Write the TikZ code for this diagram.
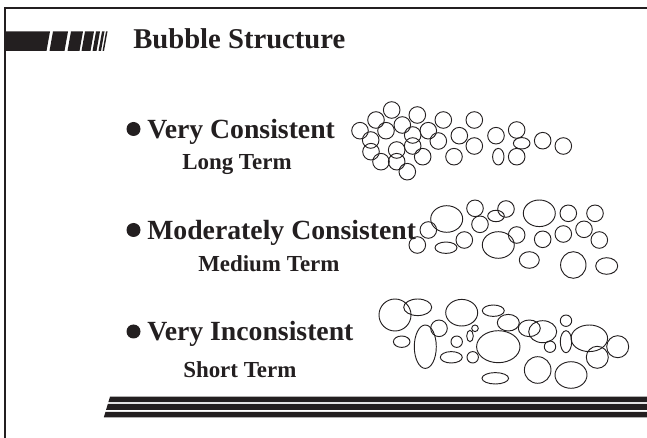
\documentclass[tikz,border=0pt]{standalone}
\usepackage{fontspec}
\setmainfont{Liberation Serif}
\usetikzlibrary{positioning}
\definecolor{ink}{RGB}{35,31,32}
\tikzset{
  heading/.style={font=\fontsize{21.5}{21.5}\selectfont\bfseries, anchor=base west, inner sep=0pt, text=ink},
  item/.style={font=\fontsize{20.8}{20.8}\selectfont\bfseries, anchor=base west, inner sep=0pt, text=ink},
  term/.style={font=\fontsize{17.2}{17.2}\selectfont\bfseries, anchor=base west, inner sep=0pt, text=ink},
  dot/.style={circle, fill=ink, inner sep=0pt, minimum size=10.5pt},
  bubble/.style={draw=ink, line width=0.7pt}
}

\begin{document}
\begin{tikzpicture}[x=0.75pt, y=-0.75pt]
\useasboundingbox (0,0) rectangle (647,438);

% frame and title bar
\draw[ink, line width=1.5pt] (5,438) -- (5,8) -- (647,8);
\fill[ink] (5,31.5) -- (50,31.5) -- (46.5,51) -- (5,51) -- cycle;
\foreach \a/\b in {53/68, 71/83, 85/94, 96/100, 102/104.5, 106/107.5}
  \fill[ink] (\a,31.5) -- (\b,31.5) -- (\b-3.5,51) -- (\a-3.5,51) -- cycle;
\node[heading] (title) at (133,49) {Bubble Structure};

% bullets
\node[dot] (d1) at (133.5,129) {};
\node[item] (vc) at (147,138.5) {Very Consistent};
\node[term] (lt) at (182,170) {Long Term};
\node[dot] (d2) at (133.5,230) {};
\node[item] (mc) at (147,239.5) {Moderately Consistent};
\node[term] (mt) at (198,272) {Medium Term};
\node[dot] (d3) at (133.5,331.5) {};
\node[item] (vi) at (147,341) {Very Inconsistent};
\node[term] (st) at (183,378) {Short Term};

% bubbles, long term
\foreach \x/\y/\rx/\ry in {391.7/110/8.3/8.3, 376/120/8.3/8.3, 417.3/115/8.3/8.3,
  443.3/120/8.3/8.3, 474.3/120/8.3/8.3, 360/130.7/8.3/8.3, 386/130.7/8.3/8.3,
  402.3/125/8.3/8.3, 412.7/135/8.3/8.3, 428.3/130.7/8.3/8.3, 370.7/140/8.3/8.3,
  371/151.7/8.3/8.3, 396.7/150/8.3/8.3, 412.7/146/8.3/8.3, 438.3/141/8.3/8.3,
  459.3/135.7/8.3/8.3, 474.3/146/8.3/8.3, 496/135.7/8.3/8.3, 516.7/130/8.3/8.3,
  521.7/143.3/8.3/5.7, 542.7/140.7/8.3/8.3, 563.3/146/8.3/8.3, 381/161.7/8.3/8.3,
  396.7/161.7/8.3/8.3, 422.7/156.7/8.3/8.3, 454/156.7/8.3/8.3, 498.3/156.7/5.7/8.3,
  516.7/156.7/8.3/8.3, 407.3/171.7/8.3/8.3}
  \draw[bubble] (\x,\y) ellipse [x radius=\rx*0.75pt, y radius=\ry*0.75pt];

% bubbles, medium term
\foreach \x/\y/\rx/\ry in {446.7/219/16/13.3, 428.3/230/8.3/8.3, 417.3/245/8.3/8.3,
  446/247.7/11/5.7, 464.3/240/8.3/8.3, 475/208.3/8.3/8.3, 480/224.3/8.3/8.3,
  496/216/8.3/5.7, 506/209/8.3/8.3, 498.3/245/16/13.3, 516.7/235/8.3/8.3,
  539.3/213.3/16/13.3, 529.3/260/10/8.3, 542.7/239.3/8.3/8.3, 563.3/234/8.3/8.3,
  568.3/213.3/8.3/8.3, 595/213.3/8.3/8.3, 584/229.3/8.3/8.3, 599.3/240/8.3/8.3,
  573.3/265/12.7/13.3, 606.7/266/11/8.3}
  \draw[bubble] (\x,\y) ellipse [x radius=\rx*0.75pt, y radius=\ry*0.75pt];

% bubbles, short term
\foreach \x/\y/\rx/\ry in {395/315/16/16, 417.7/307.3/14/8.3, 461.7/312.7/16/13.3,
  493.3/310.7/11/5.7, 508.3/322.7/11/8.3, 529.3/328.3/11/8.3, 542.7/331.7/14/11,
  566/320.7/5.7/5.7, 401.7/341.7/8.3/5.7, 425.3/346.7/11/21.7, 439/328.3/8.3/8.3,
  456.7/341.7/5.7/5.7, 470/336/3.3/5.7, 475/328.3/3.3/3.3, 451.3/357.3/11/5.7,
  472.7/357.3/5.7/5.7, 498.3/346.7/21.7/16, 550/346.7/5.7/5.7, 566/341.7/5.7/11,
  589.3/338.3/18.3/13.3, 617.7/346.7/11/11, 597.3/357.3/11/11, 495.3/378.3/13.3/5.7,
  537.7/370/13.3/13.3, 571/375/16/13.3}
  \draw[bubble] (\x,\y) ellipse [x radius=\rx*0.75pt, y radius=\ry*0.75pt];

% footer stripes
\foreach \t/\b in {396.7/402.2, 403.8/410, 411.8/417.3}
  \fill[ink] ({110-0.3*(\t-396.7)},\t) -- (647,\t) -- (647,\b) -- ({110-0.3*(\b-396.7)},\b) -- cycle;
\end{tikzpicture}
\end{document}
